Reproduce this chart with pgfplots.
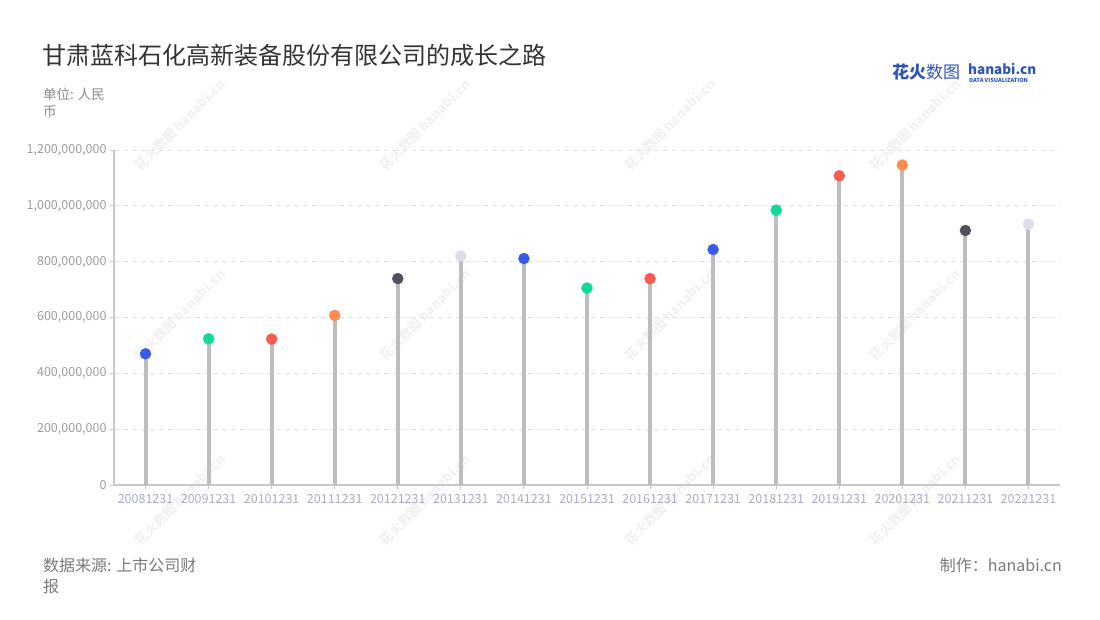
\documentclass[border=0pt]{standalone}
\usepackage{fontspec}
\setmainfont{Noto Sans CJK SC}
\usepackage{pgfplots}
\pgfplotsset{compat=1.18}
\definecolor{cblue}{HTML}{3A5BE8}
\definecolor{cgreen}{HTML}{10DA98}
\definecolor{cred}{HTML}{F95A4F}
\definecolor{corange}{HTML}{FF8C50}
\definecolor{cdark}{HTML}{50505C}
\definecolor{clight}{HTML}{DCDFEA}
\definecolor{stemgray}{HTML}{BDBDBD}
\definecolor{axisgray}{HTML}{C8C8C8}
\definecolor{gridgray}{HTML}{E2E2E2}
\definecolor{ylab}{HTML}{9C9C9C}
\definecolor{xlab}{HTML}{A8ACBF}
\definecolor{titlec}{HTML}{333333}
\definecolor{subc}{HTML}{8A8A8A}
\definecolor{footc}{HTML}{7A7A7A}
\definecolor{logoblue}{HTML}{2E54B8}
\definecolor{wm}{HTML}{F1F1F1}
\begin{document}
\begin{tikzpicture}
\path[use as bounding box] (0,0) rectangle (1100bp,-620bp);
% watermarks
\foreach \cx in {180,425,670,915}{
  \foreach \cy in {125,315,500}{
    \node[rotate=45, text=wm, font=\fontsize{13bp}{13bp}\selectfont\bfseries, inner sep=0] at (\cx bp,-\cy bp) {花火数图 hanabi.cn};
  }
}
\begin{axis}[
  scale only axis,
  width=946bp, height=335bp,
  at={(114bp,-485bp)}, anchor=south west,
  xmin=-0.5, xmax=14.5,
  ymin=0, ymax=1200,
  axis x line=bottom, axis y line=left,
  axis line style={-, draw=axisgray, line width=1.3bp},
  tick align=outside,
  major tick length=4bp,
  tick style={draw=axisgray, line width=1bp},
  xtick={0,...,14},
  xticklabels={20081231,20091231,20101231,20111231,20121231,20131231,20141231,20151231,20161231,20171231,20181231,20191231,20201231,20211231,20221231},
  xticklabel style={font=\fontsize{12.5bp}{12.5bp}\selectfont, text=xlab, yshift=-2bp},
  ytick={0,200,400,600,800,1000,1200},
  yticklabels={0,{200,000,000},{400,000,000},{600,000,000},{800,000,000},{1,000,000,000},{1,200,000,000}},
  yticklabel style={font=\fontsize{12.5bp}{12.5bp}\selectfont, text=ylab},
  ymajorgrids,
  major grid style={draw=gridgray, dash pattern=on 5bp off 4bp, line width=0.9bp},
  clip=false,
]
% values in millions of RMB
\addplot[ycomb, draw=stemgray, line width=4bp, mark=none] table {
x y
0 470.0
1 524.0
2 522.6
3 607.7
4 739.4
5 820.5
6 811.2
7 705.7
8 739.4
9 843.5
10 984.6
11 1107.7
12 1146.1
13 911.7
14 934.3
};
\addplot[only marks, mark=*, mark size=5.5bp, color=cblue] coordinates {(0,470.0) (6,811.2) (9,843.5)};
\addplot[only marks, mark=*, mark size=5.5bp, color=cgreen] coordinates {(1,524.0) (7,705.7) (10,984.6)};
\addplot[only marks, mark=*, mark size=5.5bp, color=cred] coordinates {(2,522.6) (8,739.4) (11,1107.7)};
\addplot[only marks, mark=*, mark size=5.5bp, color=corange] coordinates {(3,607.7) (12,1146.1)};
\addplot[only marks, mark=*, mark size=5.5bp, color=cdark] coordinates {(4,739.4) (13,911.7)};
\addplot[only marks, mark=*, mark size=5.5bp, color=clight] coordinates {(5,820.5) (14,934.3)};
\end{axis}
% title and texts
\node[anchor=west, text=titlec, font=\fontsize{24bp}{24bp}\selectfont, inner sep=0] at (42bp,-55bp) {甘肃蓝科石化高新装备股份有限公司的成长之路};
\node[anchor=north west, text=subc, font=\fontsize{13.5bp}{17bp}\selectfont, align=left, inner sep=0] at (43bp,-88bp) {单位: 人民\\币};
\node[anchor=north west, text=footc, font=\fontsize{16bp}{21bp}\selectfont, align=left, inner sep=0] at (43bp,-558bp) {数据来源: 上市公司财\\报};
\node[anchor=north east, text=footc, font=\fontsize{16bp}{21bp}\selectfont, inner sep=0] at (1062bp,-558bp) {制作：hanabi.cn};
% logo
\node[anchor=west, text=logoblue, font=\fontsize{17bp}{17bp}\selectfont, inner sep=0] at (892bp,-72bp) {{\bfseries 花火}数图};
\node[anchor=west, text=logoblue, font=\fontsize{13.5bp}{13.5bp}\selectfont\bfseries, inner sep=0] at (968bp,-69bp) {hanabi.cn};
\node[anchor=west, text=logoblue, font=\fontsize{5.6bp}{6bp}\selectfont\bfseries, inner sep=0] at (969bp,-80bp) {DATA VISUALIZATION};
\end{tikzpicture}
\end{document}
